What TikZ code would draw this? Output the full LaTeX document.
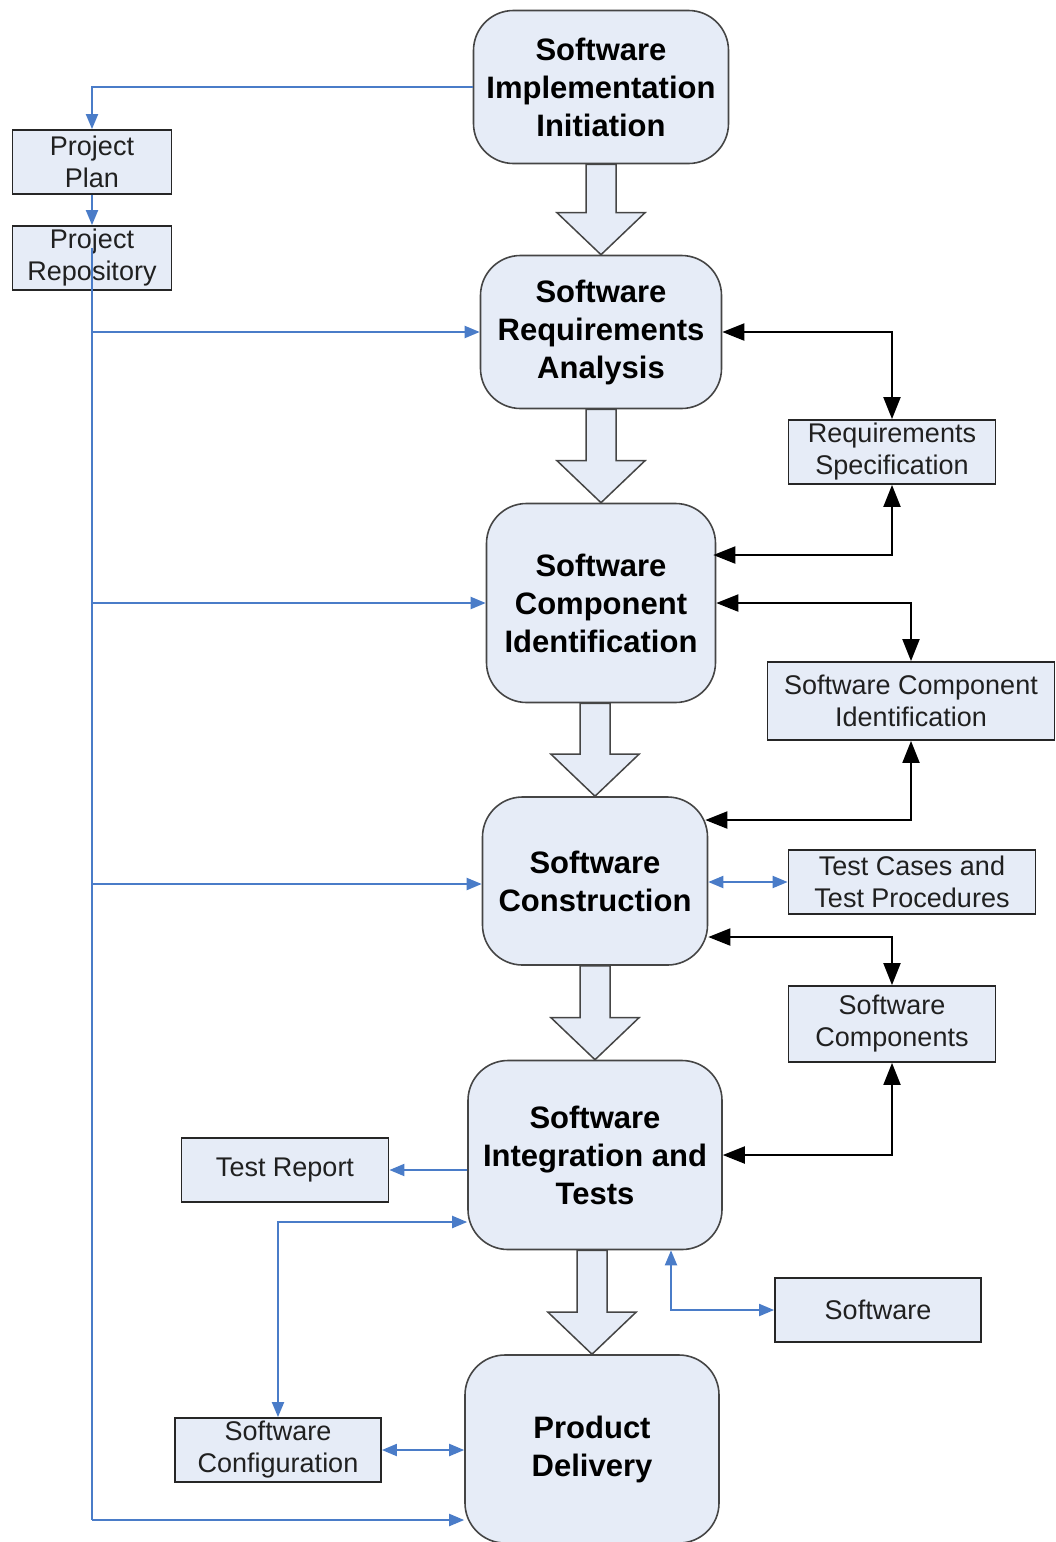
\documentclass[tikz,border=0pt]{standalone}
\usepackage{fontspec}
\setmainfont{Liberation Sans}
\usetikzlibrary{arrows.meta,calc}
\definecolor{nodefill}{HTML}{E6ECF7}
\definecolor{flowblue}{HTML}{4A7CC8}
\definecolor{mainedge}{HTML}{454545}
\definecolor{boxtext}{HTML}{202020}
\tikzset{
  mainbox/.style={draw=mainedge, line width=1.6pt, fill=nodefill, rounded corners=40pt,
    align=center, inner sep=0pt, font=\bfseries\fontsize{31}{38}\selectfont},
  docbox/.style={draw=black!85, line width=1.8pt, fill=nodefill, align=center, inner sep=0pt,
    text=boxtext, font=\fontsize{27}{32}\selectfont},
  barrow/.style={draw=mainedge, line width=1.5pt, fill=nodefill, line join=miter},
  bline/.style={draw=flowblue, line width=2pt},
  bto/.style={bline, -{Triangle[length=15pt,width=12pt]}},
  bboth/.style={bline, {Triangle[length=15pt,width=12pt]}-{Triangle[length=15pt,width=12pt]}},
  kboth/.style={draw=black, line width=2pt, {Triangle[length=22pt,width=17pt]}-{Triangle[length=22pt,width=17pt]}}
}
\newcommand\blockarrow[2]{%
  \path[barrow] let \p1=(#1.south), \p2=(#2.north) in
    (\x2-15pt,\y1) -- (\x2+15pt,\y1) -- (\x2+15pt,\y2+42pt) -- (\x2+44pt,\y2+42pt)
    -- (\x2,\y2) -- (\x2-44pt,\y2+42pt) -- (\x2-15pt,\y2+42pt) -- cycle;}
\begin{document}
\begin{tikzpicture}[x=1pt,y=-1pt]
\useasboundingbox (0,0) rectangle (1055,1542);
\clip (0,0) rectangle (1055,1542);

% main process nodes
\node[mainbox, minimum width=255pt, minimum height=153pt] (init) at (601,87) {Software\\Implementation\\Initiation};
\node[mainbox, minimum width=241pt, minimum height=153pt] (req) at (601,332) {Software\\Requirements\\Analysis};
\node[mainbox, minimum width=229pt, minimum height=199pt] (comp) at (601,603) {Software\\Component\\Identification};
\node[mainbox, minimum width=225pt, minimum height=168pt] (cons) at (595,881) {Software\\Construction};
\node[mainbox, minimum width=254pt, minimum height=189pt] (integ) at (595,1155) {Software\\Integration and\\Tests};
\node[mainbox, minimum width=254pt, minimum height=188pt] (deliv) at (592,1449) {Product\\Delivery};

% block arrows
\blockarrow{init}{req}
\blockarrow{req}{comp}
\blockarrow{comp}{cons}
\blockarrow{cons}{integ}
\blockarrow{integ}{deliv}

% document boxes
\node[docbox, minimum width=159pt, minimum height=64pt] (plan) at (92,162) {Project\\Plan};
\node[docbox, minimum width=159pt, minimum height=64pt] (repo) at (92,258) {Project\\Repository};
\node[docbox, minimum width=207pt, minimum height=64pt] (reqspec) at (892,452) {Requirements\\Specification};
\node[docbox, minimum width=287pt, minimum height=78pt] (sci) at (911,701) {Software Component\\Identification};
\node[docbox, minimum width=247pt, minimum height=64pt] (tcases) at (912,882) {Test Cases and\\Test Procedures};
\node[docbox, minimum width=207pt, minimum height=76pt] (swcomp) at (892,1024) {Software\\Components};
\node[docbox, minimum width=207pt, minimum height=64pt] (trep) at (285,1170) {Test Report};
\node[docbox, minimum width=206pt, minimum height=64pt] (swconf) at (278,1450) {Software\\Configuration};
\node[docbox, minimum width=206pt, minimum height=64pt] (sw) at (878,1310) {Software};

% blue connectors
\draw[bto] (init.west) -| (plan.north);
\draw[bto] (plan.south) -- (repo.north);
\coordinate (trunktop) at ($(repo.center)+(0,-10)$);
\coordinate (trunkend) at (92,1520);
\draw[bline] (trunktop) -- (trunkend);
\draw[bto] (trunktop |- req.west) -- (req.west);
\draw[bto] (trunktop |- comp.west) -- (comp.west);
\draw[bto] ($(trunktop |- cons.west)+(0,3)$) -- ($(cons.west)+(0,3)$);
\draw[bto] (trunkend) -- (trunkend -| deliv.west);
\draw[bto] (integ.west |- trep.east) -- (trep.east);
\draw[bboth] (swconf.north) |- ($(integ.west)+(0,67)$);
\draw[bboth] (swconf.east) -- (swconf.east -| deliv.west);
\draw[bboth] (sw.west) -| ($(integ.south)+(76,0)$);
\draw[bboth] (cons.east |- tcases.west) -- (tcases.west);

% black connectors
\draw[kboth] (req.east) -| (reqspec.north);
\draw[kboth] (reqspec.south) |- ($(comp.east)+(-3,-48)$);
\draw[kboth] (comp.east) -| (sci.north);
\draw[kboth] (sci.south) |- ($(cons.east)+(-3,-61)$);
\draw[kboth] ($(cons.east)+(0,56)$) -| (swcomp.north);
\draw[kboth] (swcomp.south) |- (integ.east);
\end{tikzpicture}
\end{document}
